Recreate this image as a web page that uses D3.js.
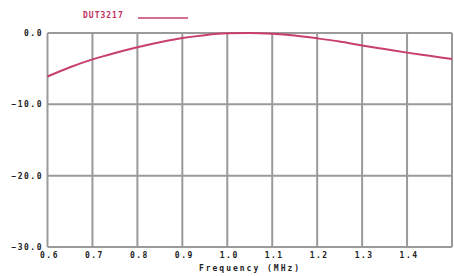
<!DOCTYPE html>
<html><head><meta charset="utf-8">
<script src="https://cdn.jsdelivr.net/npm/d3@7"></script>
<style>body{margin:0;background:#fff}svg{display:block}text{font-family:"DejaVu Sans Mono",monospace;font-weight:bold;fill:#222}</style>
</head><body><div id="c"></div>
<script>
const freq = [0.6,0.65,0.7,0.75,0.8,0.85,0.9,0.95,1.0,1.05,1.1,1.15,1.2,1.25,1.3,1.35,1.4,1.45,1.5];
const gain = [-6.1,-4.8,-3.7,-2.8,-2.0,-1.3,-0.7,-0.3,-0.05,0.0,-0.1,-0.35,-0.75,-1.2,-1.75,-2.25,-2.75,-3.2,-3.65];
const xTicks = [0.6,0.7,0.8,0.9,1.0,1.1,1.2,1.3,1.4,1.5];
const xLabels = [0.6,0.7,0.8,0.9,1.0,1.1,1.2,1.3,1.4];
const yTicks = [0,-10,-20,-30];
const seriesName = "DUT3217";
const xTitle = "Frequency (MHz)";

const W=454,H=276, L=47.5, R=452, T=33, B=247;
const svg=d3.select("#c").append("svg").attr("width",W).attr("height",H);
const x=d3.scaleLinear().domain([0.6,1.5]).range([L,R]);
const y=d3.scaleLinear().domain([-30,0]).range([B,T]);
const grid="#9a9a9a";
svg.append("g").selectAll("line").data(xTicks).join("line")
  .attr("x1",d=>x(d)).attr("x2",d=>x(d)).attr("y1",T).attr("y2",B)
  .attr("stroke",grid).attr("stroke-width",2);
svg.append("g").selectAll("line").data(yTicks).join("line")
  .attr("x1",L).attr("x2",R).attr("y1",d=>y(d)).attr("y2",d=>y(d))
  .attr("stroke",grid).attr("stroke-width",2);
svg.append("g").selectAll("text").data(yTicks).join("text")
  .attr("x",43).attr("y",d=>y(d)+3).attr("text-anchor","end").attr("font-size",8)
  .attr("letter-spacing",1.5).text(d=>d3.format(".1f")(d));
svg.append("g").selectAll("text").data(xLabels).join("text")
  .attr("x",d=>x(d)+2).attr("y",258).attr("text-anchor","middle").attr("font-size",8)
  .attr("letter-spacing",1.5).text(d=>d3.format(".1f")(d));
svg.append("text").attr("x",250).attr("y",271).attr("text-anchor","middle").attr("font-size",8)
  .attr("letter-spacing",2).text(xTitle);
const line=d3.line().x((d,i)=>x(freq[i])).y(d=>y(d)).curve(d3.curveMonotoneX);
svg.append("path").datum(gain).attr("d",line).attr("fill","none").attr("stroke","#c8406a").attr("stroke-width",2);
svg.append("text").attr("x",83).attr("y",18).attr("font-size",8).attr("letter-spacing",1).style("fill","#c03060").text(seriesName);
svg.append("line").attr("x1",138).attr("x2",188).attr("y1",18).attr("y2",18).attr("stroke","#c8406a").attr("stroke-width",1.5);
</script></body></html>
